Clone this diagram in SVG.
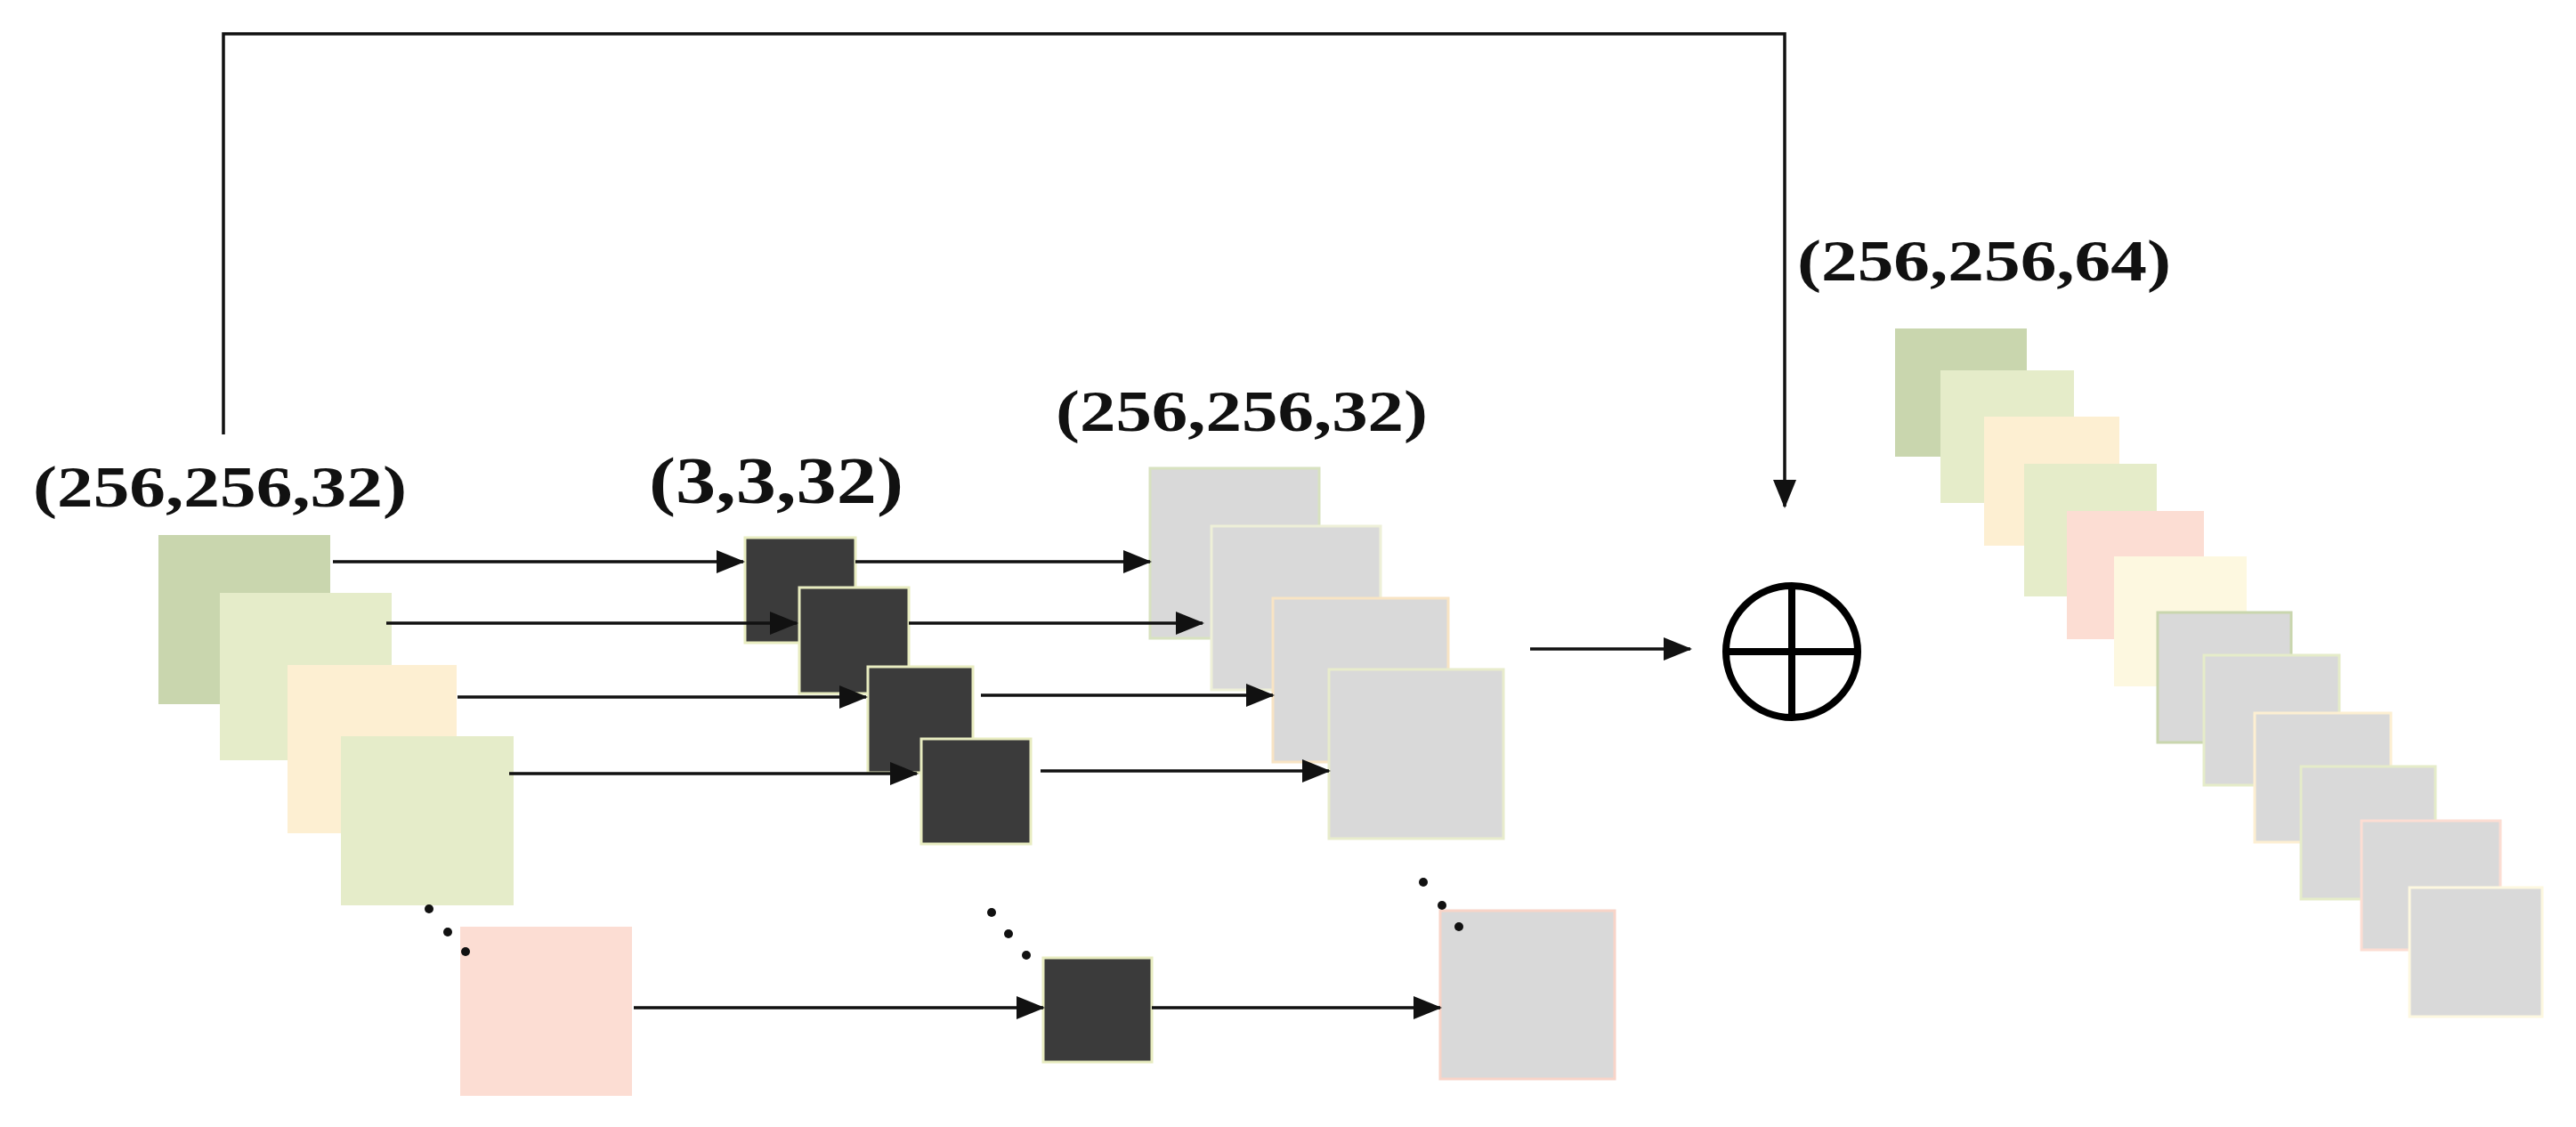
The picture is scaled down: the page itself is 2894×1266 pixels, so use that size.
<svg xmlns="http://www.w3.org/2000/svg" width="2894" height="1266" viewBox="0 0 2894 1266">
<style>
.t{font-family:"Liberation Serif","Times New Roman",serif;font-weight:bold;fill:#111}
.c{stroke:#111;stroke-width:3.5;fill:none}
.k{fill:#3b3b3b;stroke:#e8ecc0;stroke-width:3}
.g{fill:#d9d9d9;stroke-width:3}
</style>
<defs>
<marker id="a" markerUnits="userSpaceOnUse" markerWidth="32" markerHeight="26" refX="30" refY="13" orient="auto"><path d="M0,0 L32,13 L0,26 z" fill="#111"/></marker>
</defs>
<rect width="2894" height="1266" fill="#fff"/>
<g id="labels">
<text class="t" x="37" y="569" font-size="66" textLength="420" lengthAdjust="spacingAndGlyphs">(256,256,32)</text>
<text class="t" x="729" y="565" font-size="74" textLength="286" lengthAdjust="spacingAndGlyphs">(3,3,32)</text>
<text class="t" x="1186" y="484" font-size="66" textLength="418" lengthAdjust="spacingAndGlyphs">(256,256,32)</text>
<text class="t" x="2019" y="315" font-size="66" textLength="420" lengthAdjust="spacingAndGlyphs">(256,256,64)</text>
</g>
<g id="input">
<rect x="178" y="601" width="193" height="190" fill="#c9d6ae"/>
<rect x="247" y="666" width="193" height="188" fill="#e5ecc9"/>
<rect x="323" y="747" width="190" height="189" fill="#fdefd2"/>
<rect x="383" y="827" width="194" height="190" fill="#e5ecc9"/>
<rect x="517" y="1041" width="193" height="190" fill="#fcddd3"/>
<circle cx="482" cy="1021" r="5" fill="#111"/><circle cx="503" cy="1047" r="5" fill="#111"/><circle cx="523" cy="1069" r="5" fill="#111"/>
</g>
<g id="kernels">
<rect class="k" x="837" y="604" width="124" height="118"/>
<rect class="k" x="898" y="660" width="123" height="119"/>
<rect class="k" x="975" y="749" width="118" height="119"/>
<rect class="k" x="1035" y="830" width="123" height="118"/>
<rect class="k" x="1172" y="1076" width="122" height="117" stroke="#f4c8b8"/>
<circle cx="1114" cy="1025" r="5" fill="#111"/><circle cx="1133" cy="1049" r="5" fill="#111"/><circle cx="1153" cy="1073" r="5" fill="#111"/>
</g>
<g id="outputs">
<rect class="g" x="1292" y="526" width="190" height="191" stroke="#d8e2c0"/>
<rect class="g" x="1361" y="591" width="190" height="184" stroke="#eef0d8"/>
<rect class="g" x="1430" y="672" width="197" height="184" stroke="#f8e4c4"/>
<rect class="g" x="1493" y="752" width="196" height="190" stroke="#e8eccc"/>
<rect class="g" x="1618" y="1023" width="196" height="189" stroke="#f8d4c8"/>
<circle cx="1599" cy="991" r="5" fill="#111"/><circle cx="1620" cy="1017" r="5" fill="#111"/><circle cx="1639" cy="1041" r="5" fill="#111"/>
</g>
<g id="add">
<circle cx="2013" cy="732" r="74" fill="none" stroke="#000" stroke-width="8"/>
<line x1="1939" y1="732" x2="2087" y2="732" stroke="#000" stroke-width="8"/>
<line x1="2013" y1="658" x2="2013" y2="806" stroke="#000" stroke-width="8"/>
</g>
<g id="result">
<rect x="2129" y="369" width="148" height="144" fill="#c9d6ae"/>
<rect x="2180" y="416" width="150" height="149" fill="#e5ecc9"/>
<rect x="2229" y="468" width="152" height="145" fill="#fdefd2"/>
<rect x="2274" y="521" width="149" height="149" fill="#e5ecc9"/>
<rect x="2322" y="574" width="154" height="144" fill="#fcddd3"/>
<rect x="2375" y="625" width="149" height="146" fill="#fdf8e0"/>
<rect class="g" x="2424" y="688" width="150" height="146" stroke="#c9d6ae"/>
<rect class="g" x="2476" y="736" width="152" height="146" stroke="#e5ecc9"/>
<rect class="g" x="2533" y="801" width="153" height="145" stroke="#fdefd2"/>
<rect class="g" x="2585" y="861" width="151" height="149" stroke="#e5ecc9"/>
<rect class="g" x="2653" y="922" width="156" height="145" stroke="#fcddd3"/>
<rect class="g" x="2707" y="997" width="149" height="145" stroke="#fdf8e0"/>
</g>
<g id="connectors" class="c">
<polyline points="251,488 251,38 2005,38 2005,569" marker-end="url(#a)"/>
<line x1="374" y1="631" x2="835" y2="631" marker-end="url(#a)"/>
<line x1="434" y1="700" x2="895" y2="700" marker-end="url(#a)"/>
<line x1="514" y1="783" x2="973" y2="783" marker-end="url(#a)"/>
<line x1="572" y1="869" x2="1030" y2="869" marker-end="url(#a)"/>
<line x1="712" y1="1132" x2="1172" y2="1132" marker-end="url(#a)"/>
<line x1="961" y1="631" x2="1292" y2="631" marker-end="url(#a)"/>
<line x1="1021" y1="700" x2="1351" y2="700" marker-end="url(#a)"/>
<line x1="1102" y1="781" x2="1430" y2="781" marker-end="url(#a)"/>
<line x1="1169" y1="866" x2="1493" y2="866" marker-end="url(#a)"/>
<line x1="1294" y1="1132" x2="1618" y2="1132" marker-end="url(#a)"/>
<line x1="1719" y1="729" x2="1899" y2="729" marker-end="url(#a)"/>
</g>
</svg>
